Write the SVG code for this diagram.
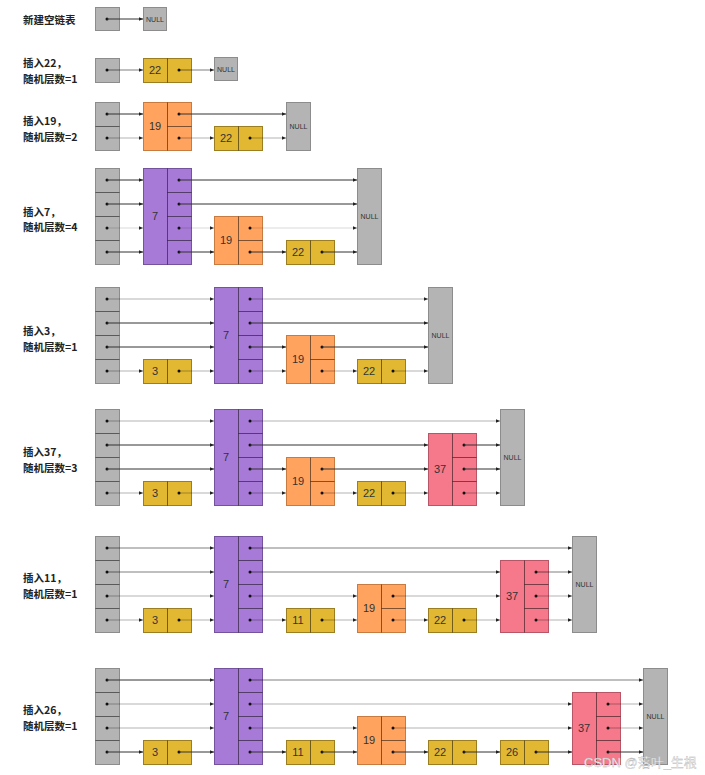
<svg xmlns="http://www.w3.org/2000/svg" width="705" height="775" viewBox="0 0 705 775">
<style>
.t{font-family:"Liberation Sans",Arial,sans-serif;font-size:11px;fill:#333;text-anchor:middle}
.n{font-family:"Liberation Sans",Arial,sans-serif;font-size:7px;fill:#333;text-anchor:middle}
.lb{font-family:"Noto Sans CJK SC","Noto Sans",sans-serif;font-size:10.5px;font-weight:bold;fill:#222}
.hd,.nl{fill:#b4b4b4;stroke:#8c8c8c;stroke-width:1}
.ye{fill:#e2b833;stroke:#9b7e22;stroke-width:1}
.or{fill:#ffa35e;stroke:#c77b40;stroke-width:1}
.pu{fill:#a87ad7;stroke:#75529e;stroke-width:1}
.pk{fill:#f5798b;stroke:#b85566;stroke-width:1}
.dv{stroke:#000;stroke-opacity:.5;stroke-width:1}
.dt{fill:#111}
.c line{marker-end:url(#a);fill:none}
.d{stroke:#333;stroke-width:1}
.m{stroke:#000;stroke-opacity:.5;stroke-width:1.2}
.l{stroke:#000;stroke-opacity:.2;stroke-width:1.3}
.wm{font-family:"Liberation Sans","Noto Sans CJK SC",sans-serif;font-size:13px;fill:#fff;stroke:#b0b0b0;stroke-width:.35}
</style>
<defs>
<marker id="a" markerUnits="userSpaceOnUse" markerWidth="6" markerHeight="6" viewBox="0 0 6 6" refX="4.5" refY="3" orient="auto">
<path d="M0.5,1.3 L4.5,3 L0.5,4.7 z" fill="#222"/>
</marker>
</defs>
<rect width="705" height="775" fill="#fff"/>

<g id="labels">
<text class="lb" x="23" y="24">新建空链表</text>
<text class="lb" x="23" y="67">插入22，</text><text class="lb" x="23" y="83">随机层数=1</text>
<text class="lb" x="23" y="125">插入19，</text><text class="lb" x="23" y="141">随机层数=2</text>
<text class="lb" x="23" y="216">插入7，</text><text class="lb" x="23" y="231">随机层数=4</text>
<text class="lb" x="23" y="335">插入3，</text><text class="lb" x="23" y="351">随机层数=1</text>
<text class="lb" x="23" y="456">插入37，</text><text class="lb" x="23" y="472">随机层数=3</text>
<text class="lb" x="23" y="582">插入11，</text><text class="lb" x="23" y="598">随机层数=1</text>
<text class="lb" x="23" y="714">插入26，</text><text class="lb" x="23" y="730">随机层数=1</text>
</g>

<!-- Row 1 -->
<g id="r1-head"><rect class="hd" x="95.5" y="7.5" width="24" height="23"/><circle class="dt" cx="107" cy="19" r="1.5"/></g>
<g id="r1-null"><rect class="nl" x="143.5" y="7.5" width="23" height="23"/><text class="n" x="155" y="21.5">NULL</text></g>

<!-- Row 2 -->
<g id="r2-head"><rect class="hd" x="95.5" y="58.5" width="24" height="24"/><circle class="dt" cx="107" cy="70" r="1.5"/></g>
<g id="r2-n22"><rect class="ye" x="143.5" y="58.5" width="48" height="24"/><line class="dv" x1="167.5" y1="58.5" x2="167.5" y2="82.5"/><text class="t" x="155" y="74">22</text><circle class="dt" cx="179" cy="70" r="1.5"/></g>
<g id="r2-null"><rect class="nl" x="214.5" y="57.5" width="23" height="23"/><text class="n" x="226" y="71.5">NULL</text></g>

<!-- Row 3 -->
<g id="r3-head"><rect class="hd" x="95.5" y="102.5" width="24" height="48"/><line class="dv" x1="95.5" y1="126.5" x2="119.5" y2="126.5"/><circle class="dt" cx="107" cy="114" r="1.5"/><circle class="dt" cx="107" cy="138" r="1.5"/></g>
<g id="r3-n19"><rect class="or" x="143.5" y="102.5" width="48" height="48"/><line class="dv" x1="167.5" y1="102.5" x2="167.5" y2="150.5"/><line class="dv" x1="167.5" y1="126.5" x2="191.5" y2="126.5"/><text class="t" x="155" y="130">19</text><circle class="dt" cx="179" cy="114" r="1.5"/><circle class="dt" cx="179" cy="138" r="1.5"/></g>
<g id="r3-n22"><rect class="ye" x="214.5" y="126.5" width="48" height="24"/><line class="dv" x1="238.5" y1="126.5" x2="238.5" y2="150.5"/><text class="t" x="226" y="142">22</text><circle class="dt" cx="250" cy="138" r="1.5"/></g>
<g id="r3-null"><rect class="nl" x="286.5" y="102.5" width="24" height="48"/><text class="n" x="298.5" y="128.5">NULL</text></g>

<!-- Row 4 -->
<g id="r4-head"><rect class="hd" x="95.5" y="168.5" width="24" height="96"/><line class="dv" x1="95.5" y1="192.5" x2="119.5" y2="192.5" stroke-opacity=".2"/><line class="dv" x1="95.5" y1="216.5" x2="119.5" y2="216.5"/><line class="dv" x1="95.5" y1="240.5" x2="119.5" y2="240.5"/><circle class="dt" cx="107" cy="180" r="1.5"/><circle class="dt" cx="107" cy="204" r="1.5"/><circle class="dt" cx="107" cy="228" r="1.5"/><circle class="dt" cx="107" cy="252" r="1.5"/></g>
<g id="r4-n7"><rect class="pu" x="143.5" y="168.5" width="48" height="96"/><line class="dv" x1="167.5" y1="168.5" x2="167.5" y2="264.5"/><line class="dv" x1="167.5" y1="192.5" x2="191.5" y2="192.5" stroke-opacity=".2"/><line class="dv" x1="167.5" y1="216.5" x2="191.5" y2="216.5"/><line class="dv" x1="167.5" y1="240.5" x2="191.5" y2="240.5"/><text class="t" x="155" y="220">7</text><circle class="dt" cx="179" cy="180" r="1.5"/><circle class="dt" cx="179" cy="204" r="1.5"/><circle class="dt" cx="179" cy="228" r="1.5"/><circle class="dt" cx="179" cy="252" r="1.5"/></g>
<g id="r4-n19"><rect class="or" x="214.5" y="216.5" width="48" height="48"/><line class="dv" x1="238.5" y1="216.5" x2="238.5" y2="264.5"/><line class="dv" x1="238.5" y1="240.5" x2="262.5" y2="240.5"/><text class="t" x="226" y="244">19</text><circle class="dt" cx="250" cy="228" r="1.5"/><circle class="dt" cx="250" cy="252" r="1.5"/></g>
<g id="r4-n22"><rect class="ye" x="286.5" y="240.5" width="48" height="24"/><line class="dv" x1="310.5" y1="240.5" x2="310.5" y2="264.5"/><text class="t" x="298" y="256">22</text><circle class="dt" cx="322" cy="252" r="1.5"/></g>
<g id="r4-null"><rect class="nl" x="357.5" y="168.5" width="24" height="96"/><text class="n" x="369.5" y="218.5">NULL</text></g>

<!-- Row 5 -->
<g id="r5-head"><rect class="hd" x="95.5" y="287.5" width="24" height="96"/><line class="dv" x1="95.5" y1="311.5" x2="119.5" y2="311.5"/><line class="dv" x1="95.5" y1="335.5" x2="119.5" y2="335.5" stroke-opacity=".25"/><line class="dv" x1="95.5" y1="359.5" x2="119.5" y2="359.5"/><circle class="dt" cx="107" cy="299" r="1.5"/><circle class="dt" cx="107" cy="323" r="1.5"/><circle class="dt" cx="107" cy="347" r="1.5"/><circle class="dt" cx="107" cy="371" r="1.5"/></g>
<g id="r5-n3"><rect class="ye" x="143.5" y="359.5" width="48" height="24"/><line class="dv" x1="167.5" y1="359.5" x2="167.5" y2="383.5"/><text class="t" x="155" y="375">3</text><circle class="dt" cx="179" cy="371" r="1.5"/></g>
<g id="r5-n7"><rect class="pu" x="214.5" y="287.5" width="48" height="96"/><line class="dv" x1="238.5" y1="287.5" x2="238.5" y2="383.5"/><line class="dv" x1="238.5" y1="311.5" x2="262.5" y2="311.5"/><line class="dv" x1="238.5" y1="335.5" x2="262.5" y2="335.5" stroke-opacity=".25"/><line class="dv" x1="238.5" y1="359.5" x2="262.5" y2="359.5"/><text class="t" x="226" y="339">7</text><circle class="dt" cx="250" cy="299" r="1.5"/><circle class="dt" cx="250" cy="323" r="1.5"/><circle class="dt" cx="250" cy="347" r="1.5"/><circle class="dt" cx="250" cy="371" r="1.5"/></g>
<g id="r5-n19"><rect class="or" x="286.5" y="335.5" width="48" height="48"/><line class="dv" x1="310.5" y1="335.5" x2="310.5" y2="383.5"/><line class="dv" x1="310.5" y1="359.5" x2="334.5" y2="359.5"/><text class="t" x="298" y="363">19</text><circle class="dt" cx="322" cy="347" r="1.5"/><circle class="dt" cx="322" cy="371" r="1.5"/></g>
<g id="r5-n22"><rect class="ye" x="357.5" y="359.5" width="48" height="24"/><line class="dv" x1="381.5" y1="359.5" x2="381.5" y2="383.5"/><text class="t" x="369" y="375">22</text><circle class="dt" cx="393" cy="371" r="1.5"/></g>
<g id="r5-null"><rect class="nl" x="428.5" y="287.5" width="24" height="96"/><text class="n" x="440.5" y="337.5">NULL</text></g>

<!-- Row 6 -->
<g id="r6-head"><rect class="hd" x="95.5" y="409.5" width="24" height="96"/><line class="dv" x1="95.5" y1="433.5" x2="119.5" y2="433.5" stroke-opacity=".25"/><line class="dv" x1="95.5" y1="457.5" x2="119.5" y2="457.5" stroke-opacity=".25"/><line class="dv" x1="95.5" y1="481.5" x2="119.5" y2="481.5"/><circle class="dt" cx="107" cy="421" r="1.5"/><circle class="dt" cx="107" cy="445" r="1.5"/><circle class="dt" cx="107" cy="469" r="1.5"/><circle class="dt" cx="107" cy="493" r="1.5"/></g>
<g id="r6-n3"><rect class="ye" x="143.5" y="481.5" width="48" height="24"/><line class="dv" x1="167.5" y1="481.5" x2="167.5" y2="505.5"/><text class="t" x="155" y="497">3</text><circle class="dt" cx="179" cy="493" r="1.5"/></g>
<g id="r6-n7"><rect class="pu" x="214.5" y="409.5" width="48" height="96"/><line class="dv" x1="238.5" y1="409.5" x2="238.5" y2="505.5"/><line class="dv" x1="238.5" y1="433.5" x2="262.5" y2="433.5" stroke-opacity=".25"/><line class="dv" x1="238.5" y1="457.5" x2="262.5" y2="457.5" stroke-opacity=".25"/><line class="dv" x1="238.5" y1="481.5" x2="262.5" y2="481.5"/><text class="t" x="226" y="461">7</text><circle class="dt" cx="250" cy="421" r="1.5"/><circle class="dt" cx="250" cy="445" r="1.5"/><circle class="dt" cx="250" cy="469" r="1.5"/><circle class="dt" cx="250" cy="493" r="1.5"/></g>
<g id="r6-n19"><rect class="or" x="286.5" y="457.5" width="48" height="48"/><line class="dv" x1="310.5" y1="457.5" x2="310.5" y2="505.5"/><line class="dv" x1="310.5" y1="481.5" x2="334.5" y2="481.5"/><text class="t" x="298" y="485">19</text><circle class="dt" cx="322" cy="469" r="1.5"/><circle class="dt" cx="322" cy="493" r="1.5"/></g>
<g id="r6-n22"><rect class="ye" x="357.5" y="481.5" width="48" height="24"/><line class="dv" x1="381.5" y1="481.5" x2="381.5" y2="505.5"/><text class="t" x="369" y="497">22</text><circle class="dt" cx="393" cy="493" r="1.5"/></g>
<g id="r6-n37"><rect class="pk" x="428.5" y="433.5" width="48" height="72"/><line class="dv" x1="452.5" y1="433.5" x2="452.5" y2="505.5"/><line class="dv" x1="452.5" y1="457.5" x2="476.5" y2="457.5" stroke-opacity=".25"/><line class="dv" x1="452.5" y1="481.5" x2="476.5" y2="481.5"/><text class="t" x="440" y="473">37</text><circle class="dt" cx="464" cy="445" r="1.5"/><circle class="dt" cx="464" cy="469" r="1.5"/><circle class="dt" cx="464" cy="493" r="1.5"/></g>
<g id="r6-null"><rect class="nl" x="500.5" y="409.5" width="24" height="96"/><text class="n" x="512.5" y="459.5">NULL</text></g>

<!-- Row 7 -->
<g id="r7-head"><rect class="hd" x="95.5" y="536.5" width="24" height="96"/><line class="dv" x1="95.5" y1="560.5" x2="119.5" y2="560.5" stroke-opacity=".25"/><line class="dv" x1="95.5" y1="584.5" x2="119.5" y2="584.5" stroke-opacity=".25"/><line class="dv" x1="95.5" y1="608.5" x2="119.5" y2="608.5"/><circle class="dt" cx="107" cy="548" r="1.5"/><circle class="dt" cx="107" cy="572" r="1.5"/><circle class="dt" cx="107" cy="596" r="1.5"/><circle class="dt" cx="107" cy="620" r="1.5"/></g>
<g id="r7-n3"><rect class="ye" x="143.5" y="608.5" width="48" height="24"/><line class="dv" x1="167.5" y1="608.5" x2="167.5" y2="632.5"/><text class="t" x="155" y="624">3</text><circle class="dt" cx="179" cy="620" r="1.5"/></g>
<g id="r7-n7"><rect class="pu" x="214.5" y="536.5" width="48" height="96"/><line class="dv" x1="238.5" y1="536.5" x2="238.5" y2="632.5"/><line class="dv" x1="238.5" y1="560.5" x2="262.5" y2="560.5" stroke-opacity=".25"/><line class="dv" x1="238.5" y1="584.5" x2="262.5" y2="584.5" stroke-opacity=".25"/><line class="dv" x1="238.5" y1="608.5" x2="262.5" y2="608.5"/><text class="t" x="226" y="588">7</text><circle class="dt" cx="250" cy="548" r="1.5"/><circle class="dt" cx="250" cy="572" r="1.5"/><circle class="dt" cx="250" cy="596" r="1.5"/><circle class="dt" cx="250" cy="620" r="1.5"/></g>
<g id="r7-n11"><rect class="ye" x="286.5" y="608.5" width="48" height="24"/><line class="dv" x1="310.5" y1="608.5" x2="310.5" y2="632.5"/><text class="t" x="298" y="624">11</text><circle class="dt" cx="322" cy="620" r="1.5"/></g>
<g id="r7-n19"><rect class="or" x="357.5" y="584.5" width="48" height="48"/><line class="dv" x1="381.5" y1="584.5" x2="381.5" y2="632.5"/><line class="dv" x1="381.5" y1="608.5" x2="405.5" y2="608.5"/><text class="t" x="369" y="612">19</text><circle class="dt" cx="393" cy="596" r="1.5"/><circle class="dt" cx="393" cy="620" r="1.5"/></g>
<g id="r7-n22"><rect class="ye" x="428.5" y="608.5" width="48" height="24"/><line class="dv" x1="452.5" y1="608.5" x2="452.5" y2="632.5"/><text class="t" x="440" y="624">22</text><circle class="dt" cx="464" cy="620" r="1.5"/></g>
<g id="r7-n37"><rect class="pk" x="500.5" y="560.5" width="48" height="72"/><line class="dv" x1="524.5" y1="560.5" x2="524.5" y2="632.5"/><line class="dv" x1="524.5" y1="584.5" x2="548.5" y2="584.5" stroke-opacity=".25"/><line class="dv" x1="524.5" y1="608.5" x2="548.5" y2="608.5"/><text class="t" x="512" y="600">37</text><circle class="dt" cx="536" cy="572" r="1.5"/><circle class="dt" cx="536" cy="596" r="1.5"/><circle class="dt" cx="536" cy="620" r="1.5"/></g>
<g id="r7-null"><rect class="nl" x="572.5" y="536.5" width="24" height="96"/><text class="n" x="584.5" y="586.5">NULL</text></g>

<!-- Row 8 -->
<g id="r8-head"><rect class="hd" x="95.5" y="668.5" width="24" height="96"/><line class="dv" x1="95.5" y1="692.5" x2="119.5" y2="692.5" stroke-opacity=".25"/><line class="dv" x1="95.5" y1="716.5" x2="119.5" y2="716.5"/><line class="dv" x1="95.5" y1="740.5" x2="119.5" y2="740.5" stroke-opacity=".25"/><circle class="dt" cx="107" cy="680" r="1.5"/><circle class="dt" cx="107" cy="704" r="1.5"/><circle class="dt" cx="107" cy="728" r="1.5"/><circle class="dt" cx="107" cy="752" r="1.5"/></g>
<g id="r8-n3"><rect class="ye" x="143.5" y="740.5" width="48" height="24"/><line class="dv" x1="167.5" y1="740.5" x2="167.5" y2="764.5"/><text class="t" x="155" y="756">3</text><circle class="dt" cx="179" cy="752" r="1.5"/></g>
<g id="r8-n7"><rect class="pu" x="214.5" y="668.5" width="48" height="96"/><line class="dv" x1="238.5" y1="668.5" x2="238.5" y2="764.5"/><line class="dv" x1="238.5" y1="692.5" x2="262.5" y2="692.5" stroke-opacity=".25"/><line class="dv" x1="238.5" y1="716.5" x2="262.5" y2="716.5"/><line class="dv" x1="238.5" y1="740.5" x2="262.5" y2="740.5" stroke-opacity=".25"/><text class="t" x="226" y="720">7</text><circle class="dt" cx="250" cy="680" r="1.5"/><circle class="dt" cx="250" cy="704" r="1.5"/><circle class="dt" cx="250" cy="728" r="1.5"/><circle class="dt" cx="250" cy="752" r="1.5"/></g>
<g id="r8-n11"><rect class="ye" x="286.5" y="740.5" width="48" height="24"/><line class="dv" x1="310.5" y1="740.5" x2="310.5" y2="764.5"/><text class="t" x="298" y="756">11</text><circle class="dt" cx="322" cy="752" r="1.5"/></g>
<g id="r8-n19"><rect class="or" x="357.5" y="716.5" width="48" height="48"/><line class="dv" x1="381.5" y1="716.5" x2="381.5" y2="764.5"/><line class="dv" x1="381.5" y1="740.5" x2="405.5" y2="740.5" stroke-opacity=".25"/><text class="t" x="369" y="744">19</text><circle class="dt" cx="393" cy="728" r="1.5"/><circle class="dt" cx="393" cy="752" r="1.5"/></g>
<g id="r8-n22"><rect class="ye" x="428.5" y="740.5" width="48" height="24"/><line class="dv" x1="452.5" y1="740.5" x2="452.5" y2="764.5"/><text class="t" x="440" y="756">22</text><circle class="dt" cx="464" cy="752" r="1.5"/></g>
<g id="r8-n26"><rect class="ye" x="500.5" y="740.5" width="48" height="24"/><line class="dv" x1="524.5" y1="740.5" x2="524.5" y2="764.5"/><text class="t" x="512" y="756">26</text><circle class="dt" cx="536" cy="752" r="1.5"/></g>
<g id="r8-n37"><rect class="pk" x="572.5" y="692.5" width="48" height="72"/><line class="dv" x1="596.5" y1="692.5" x2="596.5" y2="764.5"/><line class="dv" x1="596.5" y1="716.5" x2="620.5" y2="716.5"/><line class="dv" x1="596.5" y1="740.5" x2="620.5" y2="740.5" stroke-opacity=".25"/><text class="t" x="584" y="732">37</text><circle class="dt" cx="608" cy="704" r="1.5"/><circle class="dt" cx="608" cy="728" r="1.5"/><circle class="dt" cx="608" cy="752" r="1.5"/></g>
<g id="r8-null"><rect class="nl" x="643.5" y="668.5" width="24" height="96"/><text class="n" x="655.5" y="718.5">NULL</text></g>

<g id="connectors" class="c">
<line class="d" x1="107" y1="19" x2="143" y2="19"/>
<line class="m" x1="107" y1="70" x2="143" y2="70"/><line class="m" x1="179" y1="70" x2="214" y2="70"/>
<line class="d" x1="107" y1="114" x2="143" y2="114"/><line class="d" x1="179" y1="114" x2="286" y2="114"/>
<line class="l" x1="107" y1="138" x2="143" y2="138"/><line class="l" x1="179" y1="138" x2="214" y2="138"/><line class="l" x1="250" y1="138" x2="286" y2="138"/>

<line class="d" x1="107" y1="180" x2="143" y2="180"/><line class="d" x1="179" y1="180" x2="357" y2="180"/>
<line class="d" x1="107" y1="204" x2="143" y2="204"/><line class="d" x1="179" y1="204" x2="357" y2="204"/>
<line class="l" x1="107" y1="228" x2="143" y2="228" style="stroke-opacity:.1"/><line class="l" x1="179" y1="228" x2="214" y2="228" style="stroke-opacity:.1"/><line class="l" x1="250" y1="228" x2="357" y2="228" style="stroke-opacity:.1"/>
<line class="d" x1="107" y1="252" x2="143" y2="252"/><line class="d" x1="179" y1="252" x2="214" y2="252"/><line class="d" x1="250" y1="252" x2="286" y2="252"/><line class="d" x1="322" y1="252" x2="357" y2="252"/>

<line class="l" x1="107" y1="299" x2="214" y2="299"/><line class="l" x1="250" y1="299" x2="428" y2="299"/>
<line class="d" x1="107" y1="323" x2="214" y2="323"/><line class="d" x1="250" y1="323" x2="428" y2="323"/>
<line class="d" x1="107" y1="347" x2="214" y2="347"/><line class="d" x1="250" y1="347" x2="286" y2="347"/><line class="d" x1="322" y1="347" x2="428" y2="347"/>
<line class="l" x1="107" y1="371" x2="143" y2="371"/><line class="l" x1="179" y1="371" x2="214" y2="371"/><line class="l" x1="250" y1="371" x2="286" y2="371"/><line class="l" x1="322" y1="371" x2="357" y2="371"/><line class="l" x1="393" y1="371" x2="428" y2="371"/>

<line class="l" x1="107" y1="421" x2="214" y2="421"/><line class="l" x1="250" y1="421" x2="500" y2="421"/>
<line class="d" x1="107" y1="445" x2="214" y2="445"/><line class="d" x1="250" y1="445" x2="428" y2="445"/><line class="d" x1="464" y1="445" x2="500" y2="445"/>
<line class="d" x1="107" y1="469" x2="214" y2="469"/><line class="d" x1="250" y1="469" x2="286" y2="469"/><line class="d" x1="322" y1="469" x2="428" y2="469"/><line class="d" x1="464" y1="469" x2="500" y2="469"/>
<line class="l" x1="107" y1="493" x2="143" y2="493"/><line class="l" x1="179" y1="493" x2="214" y2="493"/><line class="l" x1="250" y1="493" x2="286" y2="493"/><line class="l" x1="322" y1="493" x2="357" y2="493"/><line class="l" x1="393" y1="493" x2="428" y2="493"/><line class="l" x1="464" y1="493" x2="500" y2="493"/>

<line class="m" x1="107" y1="548" x2="214" y2="548"/><line class="m" x1="250" y1="548" x2="572" y2="548"/>
<line class="m" x1="107" y1="572" x2="214" y2="572"/><line class="m" x1="250" y1="572" x2="500" y2="572"/><line class="m" x1="536" y1="572" x2="572" y2="572"/>
<line class="l" x1="107" y1="596" x2="214" y2="596"/><line class="l" x1="250" y1="596" x2="357" y2="596"/><line class="l" x1="393" y1="596" x2="500" y2="596"/><line class="l" x1="536" y1="596" x2="572" y2="596"/>
<line class="l" x1="107" y1="620" x2="143" y2="620"/><line class="l" x1="179" y1="620" x2="214" y2="620"/><line class="l" x1="250" y1="620" x2="286" y2="620"/><line class="l" x1="322" y1="620" x2="357" y2="620"/><line class="l" x1="393" y1="620" x2="428" y2="620"/><line class="l" x1="464" y1="620" x2="500" y2="620"/><line class="l" x1="536" y1="620" x2="572" y2="620"/>

<line class="d" x1="107" y1="680" x2="214" y2="680"/><line class="m" x1="250" y1="680" x2="643" y2="680"/>
<line class="l" x1="107" y1="704" x2="214" y2="704"/><line class="l" x1="250" y1="704" x2="572" y2="704"/><line class="l" x1="608" y1="704" x2="643" y2="704"/>
<line class="l" x1="107" y1="728" x2="214" y2="728"/><line class="l" x1="250" y1="728" x2="357" y2="728"/><line class="l" x1="393" y1="728" x2="572" y2="728"/><line class="l" x1="608" y1="728" x2="643" y2="728"/>
<line class="d" x1="107" y1="752" x2="143" y2="752"/><line class="d" x1="179" y1="752" x2="214" y2="752"/><line class="d" x1="250" y1="752" x2="286" y2="752"/><line class="d" x1="322" y1="752" x2="357" y2="752"/><line class="d" x1="393" y1="752" x2="428" y2="752"/><line class="d" x1="464" y1="752" x2="500" y2="752"/><line class="d" x1="536" y1="752" x2="572" y2="752"/><line class="d" x1="608" y1="752" x2="643" y2="752"/>
</g>

<text class="wm" x="584" y="767">CSDN @落叶_生根</text>
</svg>
